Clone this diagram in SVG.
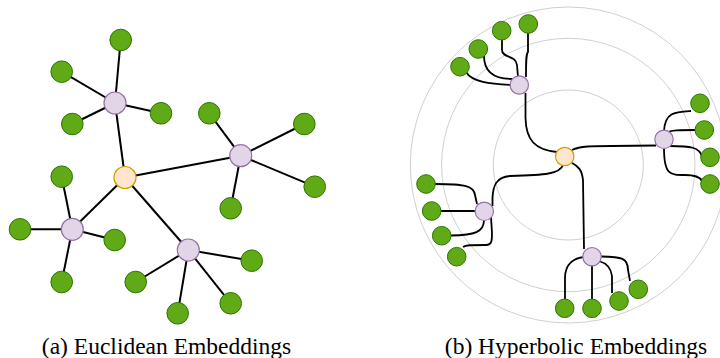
<svg xmlns="http://www.w3.org/2000/svg" width="720" height="358" viewBox="0 0 720 358">
<style>
.leaf{fill:#60a917;stroke:#2d7600;stroke-width:1}
.hub{fill:#e1d5e7;stroke:#9673a6;stroke-width:1.2}
.root{fill:#ffe6cc;stroke:#d79b00;stroke-width:1.2}
.e{fill:none;stroke:#000;stroke-width:2}
.h{fill:none;stroke:#000;stroke-width:1.8}
.ring{fill:none;stroke:#d0d0d0;stroke-width:1}
.cap{font-family:"Liberation Serif","Times New Roman",serif;font-size:23.5px;fill:#000}
</style>
<rect width="720" height="358" fill="#fff"/>
<g id="rings">
<circle class="ring" cx="568.3" cy="165" r="75"/>
<circle class="ring" cx="568.3" cy="165" r="126.7"/>
<circle class="ring" cx="568.3" cy="165" r="158"/>
</g>
<g id="connectors">
<!-- Euclidean -->
<line class="e" x1="125" y1="177.5" x2="115" y2="103"/>
<line class="e" x1="125" y1="177.5" x2="240.7" y2="155.7"/>
<line class="e" x1="125" y1="177.5" x2="72.3" y2="229.3"/>
<line class="e" x1="125" y1="177.5" x2="188.3" y2="250"/>
<line class="e" x1="115" y1="103" x2="120.7" y2="40"/>
<line class="e" x1="115" y1="103" x2="61.7" y2="71.7"/>
<line class="e" x1="115" y1="103" x2="72.3" y2="124"/>
<line class="e" x1="115" y1="103" x2="161" y2="113.3"/>
<line class="e" x1="240.7" y1="155.7" x2="209.3" y2="113.3"/>
<line class="e" x1="240.7" y1="155.7" x2="304.3" y2="124"/>
<line class="e" x1="240.7" y1="155.7" x2="314.7" y2="186.7"/>
<line class="e" x1="240.7" y1="155.7" x2="230.7" y2="208.3"/>
<line class="e" x1="72.3" y1="229.3" x2="61.7" y2="176.7"/>
<line class="e" x1="72.3" y1="229.3" x2="20" y2="229.3"/>
<line class="e" x1="72.3" y1="229.3" x2="114.7" y2="240"/>
<line class="e" x1="72.3" y1="229.3" x2="61.7" y2="282"/>
<line class="e" x1="188.3" y1="250" x2="251.7" y2="260.7"/>
<line class="e" x1="188.3" y1="250" x2="135.7" y2="282"/>
<line class="e" x1="188.3" y1="250" x2="230.7" y2="303.3"/>
<line class="e" x1="188.3" y1="250" x2="177.7" y2="313.3"/>
<!-- Hyperbolic -->
<path class="h" d="M525.5 93 L525.5 118 C526 140 535 150 557 152"/>
<path class="h" d="M572 150 C580 146 592 146 612 146 L656 145.5"/>
<path class="h" d="M563 165 C560 174 545 175 510 176 C496 177 493 186 492.5 198 L492.5 206"/>
<path class="h" d="M572 163 C578 166 582 170 583 180 L584 249"/>
<path class="h" d="M466 72 C472 82 490 84 511 85"/>
<path class="h" d="M484 56 C484 72 494 79 512 79"/>
<path class="h" d="M502 39 L502 50 C502 58 516 55 517 65 L518 77"/>
<path class="h" d="M528 33 L528 52 C526 54 526 60 526 77"/>
<path class="h" d="M691 111 C675 112 665 112 664 131"/>
<path class="h" d="M695 130 C680 130 670 130 667 133"/>
<path class="h" d="M670 146 C690 146 700 147 702 157"/>
<path class="h" d="M664 148 C664 175 670 175 685 175 C695 175 700 177 702 181"/>
<path class="h" d="M435 184 C465 184 474 186 475 195 L477 204"/>
<path class="h" d="M441 211 L476 211"/>
<path class="h" d="M451 235.5 C475 235 484 232 484 220"/>
<path class="h" d="M463 247 C466 245 470 245 486 245 C492 245 492 240 492 233 L491 217"/>
<path class="h" d="M565 299 L565 278 C565 263 575 258 584 257"/>
<path class="h" d="M592 265 L592 299"/>
<path class="h" d="M612 293 L612 276 C611 268 606 263 599 261"/>
<path class="h" d="M601 256.5 C622 257 628 258 628 270 L630 281"/>
</g>
<g id="euclid-root"><circle class="root" cx="125" cy="177.5" r="11"/></g>
<g id="euclid-hub1"><circle class="hub" cx="115" cy="103" r="11"/></g>
<g id="euclid-hub2"><circle class="hub" cx="240.7" cy="155.7" r="11"/></g>
<g id="euclid-hub3"><circle class="hub" cx="72.3" cy="229.3" r="11"/></g>
<g id="euclid-hub4"><circle class="hub" cx="188.3" cy="250" r="11"/></g>
<g id="euclid-leaf1"><circle class="leaf" cx="120.7" cy="40" r="10.8"/></g>
<g id="euclid-leaf2"><circle class="leaf" cx="61.7" cy="71.7" r="10.8"/></g>
<g id="euclid-leaf3"><circle class="leaf" cx="72.3" cy="124" r="10.8"/></g>
<g id="euclid-leaf4"><circle class="leaf" cx="161" cy="113.3" r="10.8"/></g>
<g id="euclid-leaf5"><circle class="leaf" cx="209.3" cy="113.3" r="10.8"/></g>
<g id="euclid-leaf6"><circle class="leaf" cx="304.3" cy="124" r="10.8"/></g>
<g id="euclid-leaf7"><circle class="leaf" cx="314.7" cy="186.7" r="10.8"/></g>
<g id="euclid-leaf8"><circle class="leaf" cx="230.7" cy="208.3" r="10.8"/></g>
<g id="euclid-leaf9"><circle class="leaf" cx="61.7" cy="176.7" r="10.8"/></g>
<g id="euclid-leaf10"><circle class="leaf" cx="20" cy="229.3" r="10.8"/></g>
<g id="euclid-leaf11"><circle class="leaf" cx="114.7" cy="240" r="10.8"/></g>
<g id="euclid-leaf12"><circle class="leaf" cx="61.7" cy="282" r="10.8"/></g>
<g id="euclid-leaf13"><circle class="leaf" cx="251.7" cy="260.7" r="10.8"/></g>
<g id="euclid-leaf14"><circle class="leaf" cx="135.7" cy="282" r="10.8"/></g>
<g id="euclid-leaf15"><circle class="leaf" cx="230.7" cy="303.3" r="10.8"/></g>
<g id="euclid-leaf16"><circle class="leaf" cx="177.7" cy="313.3" r="10.8"/></g>

<g id="hyp-root"><circle class="root" cx="564.7" cy="156.5" r="9.2"/></g>
<g id="hyp-hub1"><circle class="hub" cx="519.3" cy="85" r="9.2"/></g>
<g id="hyp-hub2"><circle class="hub" cx="664" cy="139.3" r="9.2"/></g>
<g id="hyp-hub3"><circle class="hub" cx="484.3" cy="211.3" r="9.2"/></g>
<g id="hyp-hub4"><circle class="hub" cx="592" cy="256.7" r="9.2"/></g>
<g id="hyp-leaf1"><circle class="leaf" cx="460" cy="66.7" r="9.3"/></g>
<g id="hyp-leaf2"><circle class="leaf" cx="478.3" cy="49" r="9.3"/></g>
<g id="hyp-leaf3"><circle class="leaf" cx="501.7" cy="30.7" r="9.3"/></g>
<g id="hyp-leaf4"><circle class="leaf" cx="528.3" cy="24" r="9.3"/></g>
<g id="hyp-leaf5"><circle class="leaf" cx="700" cy="103.3" r="9.3"/></g>
<g id="hyp-leaf6"><circle class="leaf" cx="704.3" cy="130" r="9.3"/></g>
<g id="hyp-leaf7"><circle class="leaf" cx="710" cy="157.3" r="9.3"/></g>
<g id="hyp-leaf8"><circle class="leaf" cx="710" cy="184" r="9.3"/></g>
<g id="hyp-leaf9"><circle class="leaf" cx="426" cy="184" r="9.3"/></g>
<g id="hyp-leaf10"><circle class="leaf" cx="431.7" cy="211" r="9.3"/></g>
<g id="hyp-leaf11"><circle class="leaf" cx="441.7" cy="235.7" r="9.3"/></g>
<g id="hyp-leaf12"><circle class="leaf" cx="456.7" cy="256.7" r="9.3"/></g>
<g id="hyp-leaf13"><circle class="leaf" cx="564.7" cy="308.3" r="9.3"/></g>
<g id="hyp-leaf14"><circle class="leaf" cx="592" cy="308.3" r="9.3"/></g>
<g id="hyp-leaf15"><circle class="leaf" cx="619" cy="301" r="9.3"/></g>
<g id="hyp-leaf16"><circle class="leaf" cx="638.3" cy="289.3" r="9.3"/></g>

<g id="captions">
<text class="cap" x="166.5" y="354" text-anchor="middle">(a)  Euclidean Embeddings</text>
<text class="cap" x="576" y="354" text-anchor="middle">(b)  Hyperbolic Embeddings</text>
</g>
</svg>
